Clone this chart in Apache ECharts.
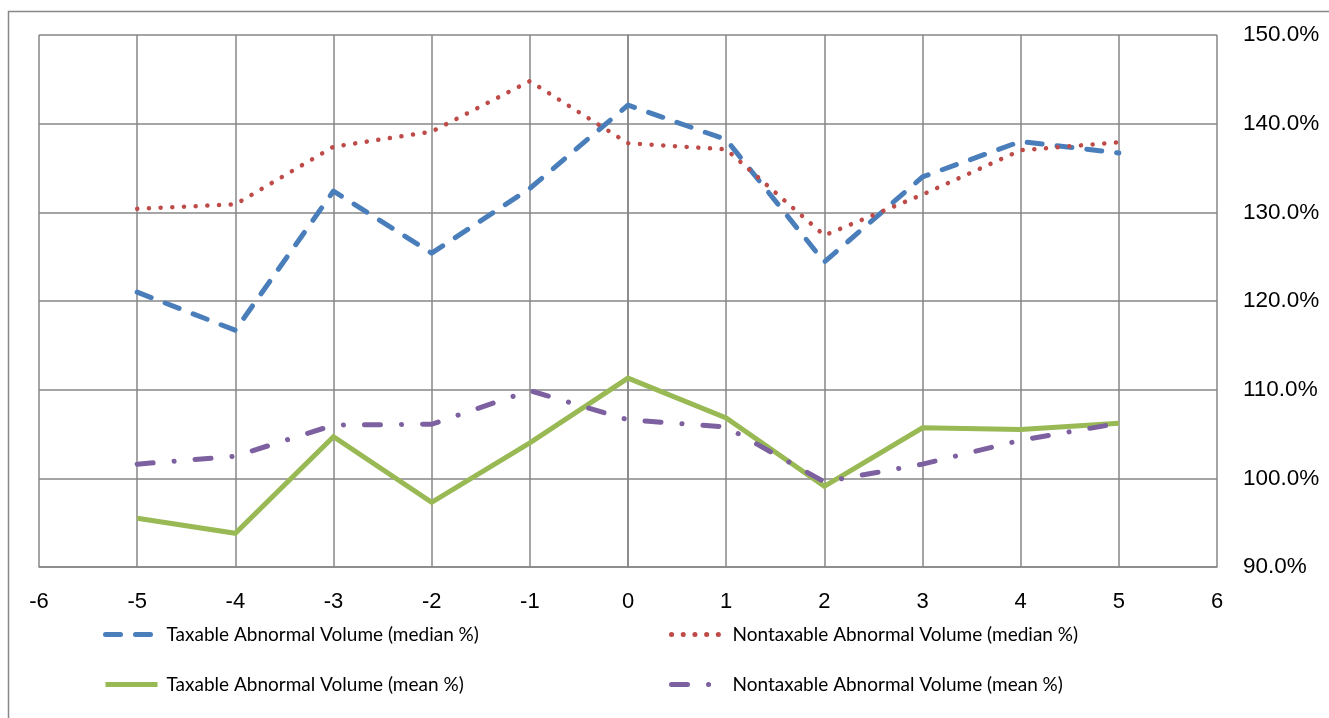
<!DOCTYPE html>
<html>
<head>
<meta charset="utf-8">
<script src="https://cdn.jsdelivr.net/npm/echarts@6/dist/echarts.min.js"></script>
<style>
  html, body { margin: 0; padding: 0; background: #fff; }
  #chart { width: 1329px; height: 718px; }
</style>
</head>
<body>
<div id="chart"></div>
<script>
// event days
const days = [-5, -4, -3, -2, -1, 0, 1, 2, 3, 4, 5];
const xTicks = [-6, -5, -4, -3, -2, -1, 0, 1, 2, 3, 4, 5, 6];
const yTicks = [90, 100, 110, 120, 130, 140, 150];

// values in %
const taxableMedian = [121.0, 116.7, 132.4, 125.4, 132.7, 142.1, 138.2, 124.4, 134.0, 138.0, 136.7];
const nontaxableMedian = [130.4, 130.9, 137.4, 139.1, 144.8, 137.8, 137.1, 127.4, 132.0, 137.0, 137.9];
const taxableMean = [95.5, 93.8, 104.7, 97.3, 104.0, 111.3, 106.8, 99.1, 105.7, 105.5, 106.2];
const nontaxableMean = [101.6, 102.5, 106.0, 106.1, 109.9, 106.6, 105.8, 99.6, 101.6, 104.3, 106.2];

const names = [
  'Taxable Abnormal Volume (median %)',
  'Nontaxable Abnormal Volume (median %)',
  'Taxable Abnormal Volume (mean %)',
  'Nontaxable Abnormal Volume (mean %)'
];

const font = '"Liberation Sans", Arial, sans-serif';
const legendFont = 'Lato, "Liberation Sans", sans-serif';
const gray = '#878787';

const pairs = vals => days.map((d, i) => [d, vals[i]]);

const legendAt = (name, left, top) => ({
  data: [name], left, top, padding: 0,
  itemWidth: 52, itemHeight: 14,
  itemStyle: { opacity: 0 },
  lineStyle: { width: 5 },
  textStyle: { fontFamily: legendFont, fontSize: 19, color: '#000', padding: [0, 0, 0, 4] },
  selectedMode: false
});

const chart = echarts.init(document.getElementById('chart'));
chart.setOption({
  animation: false,
  graphic: [{
    type: 'rect', left: 6, top: 9, silent: true,
    shape: { width: 1340, height: 720 },
    style: { fill: 'none', stroke: gray, lineWidth: 1.5 }
  }],
  grid: { left: 39, top: 35, right: 112, bottom: 151 },
  legend: [
    legendAt(names[0], 103, 625),
    legendAt(names[1], 669, 625),
    legendAt(names[2], 103, 675),
    legendAt(names[3], 669, 675)
  ],
  xAxis: {
    type: 'value', min: xTicks[0], max: xTicks[xTicks.length - 1], interval: 1,
    axisLine: { onZero: false, lineStyle: { color: gray, width: 1.5 } },
    axisTick: { show: false },
    axisLabel: { fontFamily: font, fontSize: 22, color: '#000', margin: 24 },
    splitLine: { lineStyle: { color: gray, width: 1.5 } }
  },
  yAxis: {
    type: 'value', position: 'right', min: yTicks[0], max: yTicks[yTicks.length - 1], interval: 10,
    axisLine: { show: true, lineStyle: { color: gray, width: 1.5 } },
    axisTick: { show: false },
    axisLabel: { fontFamily: font, fontSize: 22.5, color: '#000', margin: 26, formatter: v => v.toFixed(1) + '%' },
    splitLine: { lineStyle: { color: gray, width: 1.5 } }
  },
  series: [
    {
      name: names[0], type: 'line', data: pairs(taxableMedian), symbol: 'none',
      lineStyle: { color: '#4A7EBB', width: 5, type: [15, 15], cap: 'round', join: 'round' },
      itemStyle: { color: '#4A7EBB' }
    },
    {
      name: names[1], type: 'line', data: pairs(nontaxableMedian), symbol: 'none',
      lineStyle: { color: '#BE4B48', width: 4.5, type: [0.1, 11.6], cap: 'round', join: 'round' },
      itemStyle: { color: '#BE4B48' }
    },
    {
      name: names[2], type: 'line', data: pairs(taxableMean), symbol: 'none',
      lineStyle: { color: '#98B954', width: 5, type: 'solid', join: 'miter' },
      itemStyle: { color: '#98B954' }
    },
    {
      name: names[3], type: 'line', data: pairs(nontaxableMean), symbol: 'none',
      lineStyle: { color: '#7D60A0', width: 5, type: [16, 21, 0.1, 21], cap: 'round', join: 'round' },
      itemStyle: { color: '#7D60A0' }
    }
  ]
});
</script>
</body>
</html>
